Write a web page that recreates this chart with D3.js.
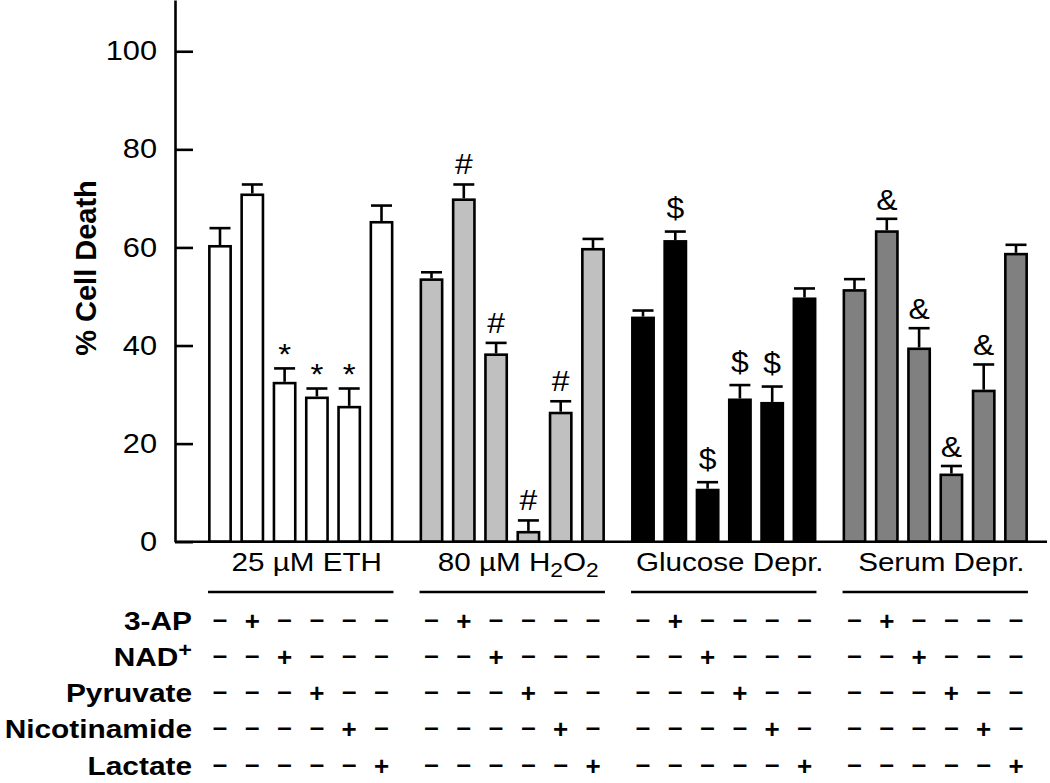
<!DOCTYPE html>
<html><head><meta charset="utf-8">
<script src="https://cdn.jsdelivr.net/npm/d3@7"></script>
<style>
body{margin:0;background:#fff}
svg{display:block}
text{font-family:"Liberation Sans",Arial,Helvetica,sans-serif;fill:#000}
</style>
</head><body>
<svg id="chart" width="1050" height="783"></svg>
<script>
// ---------- data ----------
const groups = ["25 µM ETH", "80 µM H2O2", "Glucose Depr.", "Serum Depr."];
const groupFills = ["#ffffff", "#c0c0c0", "#000000", "#808080"];

const ethValues     = [60.5, 71.0, 32.6, 29.6, 27.7, 65.4];
const ethErrors     = [3.7, 2.1, 3.0, 1.9, 3.8, 3.4];
const ethMarks      = ["", "", "*", "*", "*", ""];

const h2o2Values    = [53.7, 70.0, 38.4, 2.2, 26.5, 59.9];
const h2o2Errors    = [1.5, 3.1, 2.4, 2.4, 2.4, 2.1];
const h2o2Marks     = ["", "#", "#", "#", "#", ""];

const glucoseValues = [45.9, 61.5, 10.8, 29.2, 28.5, 49.8];
const glucoseErrors = [1.5, 2.0, 1.6, 3.0, 3.4, 2.1];
const glucoseMarks  = ["", "$", "$", "$", "$", ""];

const serumValues   = [51.5, 63.5, 39.6, 13.9, 31.0, 58.9];
const serumErrors   = [2.3, 2.6, 4.2, 1.8, 5.4, 1.9];
const serumMarks    = ["", "&", "&", "&", "&", ""];

const treatments = ["3-AP", "NAD+", "Pyruvate", "Nicotinamide", "Lactate"];
const treatmentBar = [1, 2, 3, 4, 5]; // bar (within each group) that receives the treatment
const yTicks = [0, 20, 40, 60, 80, 100];
const yLabel = "% Cell Death";

const series = [
  {name: groups[0], values: ethValues, errors: ethErrors, marks: ethMarks, fill: groupFills[0]},
  {name: groups[1], values: h2o2Values, errors: h2o2Errors, marks: h2o2Marks, fill: groupFills[1]},
  {name: groups[2], values: glucoseValues, errors: glucoseErrors, marks: glucoseMarks, fill: groupFills[2]},
  {name: groups[3], values: serumValues, errors: serumErrors, marks: serumMarks, fill: groupFills[3]}
];

// ---------- layout ----------
const svg = d3.select("#chart");
const SW = 2.6;
const AXIS_X = 175;
const y = d3.scaleLinear().domain([0, 110.45]).range([541.7, 0]);
const xg = d3.scaleBand().domain(groups).range([203.85, 1032.15]).paddingInner(0.0837).paddingOuter(0);
const xb = d3.scaleBand().domain(d3.range(6)).range([0, xg.bandwidth()]).paddingInner(0.26).paddingOuter(0.13);
const bw = xb.bandwidth();
const markGap = {"*": 3, "#": 9, "$": 12, "&": 8};

// ---------- bars ----------
series.forEach(s => {
  const g = svg.append("g").attr("transform", `translate(${xg(s.name)},0)`);
  const items = s.values.map((v, i) => ({v, e: s.errors[i], m: s.marks[i], i}));
  const bars = g.selectAll("g.bar").data(items).join("g").attr("class", "bar");
  bars.append("line")
    .attr("x1", d => xb(d.i) + bw / 2).attr("x2", d => xb(d.i) + bw / 2)
    .attr("y1", d => y(d.v)).attr("y2", d => y(d.v + d.e) + SW / 2)
    .attr("stroke", "#000").attr("stroke-width", SW);
  bars.append("line")
    .attr("x1", d => xb(d.i) + bw / 2 - 10.5).attr("x2", d => xb(d.i) + bw / 2 + 10.5)
    .attr("y1", d => y(d.v + d.e) + SW / 2).attr("y2", d => y(d.v + d.e) + SW / 2)
    .attr("stroke", "#000").attr("stroke-width", SW);
  bars.append("rect")
    .attr("x", d => xb(d.i) + SW / 2)
    .attr("y", d => y(d.v) + SW / 2)
    .attr("width", bw - SW)
    .attr("height", d => y(0) - y(d.v) - SW / 2)
    .attr("fill", s.fill).attr("stroke", "#000").attr("stroke-width", SW);
  bars.filter(d => d.m).append("text")
    .attr("transform", d => `translate(${xb(d.i) + bw / 2},${y(d.v + d.e) - markGap[d.m]}) scale(1.1,1)`)
    .attr("text-anchor", "middle")
    .attr("font-size", d => d.m === "*" ? 30 : 29)
    .text(d => d.m);
});

// ---------- axes ----------
const ax = svg.append("g").attr("transform", `translate(${AXIS_X},0)`)
  .call(d3.axisLeft(y).tickValues(yTicks).tickSize(-18).tickSizeOuter(0).tickPadding(18));
ax.attr("font-size", 27).attr("font-family", '"Liberation Sans",Arial,sans-serif');
ax.select(".domain").attr("stroke", "#000").attr("stroke-width", SW);
ax.selectAll(".tick line").attr("stroke", "#000").attr("stroke-width", SW);
ax.selectAll(".tick text").attr("fill", "#000").attr("x", -18 / 1.14).attr("transform", "scale(1.14,1)");

svg.append("line")
  .attr("x1", AXIS_X).attr("x2", 1047)
  .attr("y1", y(0)).attr("y2", y(0))
  .attr("stroke", "#000").attr("stroke-width", SW);

svg.append("text")
  .attr("transform", `translate(96,268) rotate(-90)`)
  .attr("text-anchor", "middle")
  .attr("font-size", 29).attr("font-weight", "bold")
  .text(yLabel);

// ---------- group labels ----------
groups.forEach(name => {
  const cx = xg(name) + xg.bandwidth() / 2 + 6;
  const t = svg.append("text")
    .attr("transform", `translate(${cx},571) scale(1.14,1)`)
    .attr("text-anchor", "middle")
    .attr("font-size", 26);
  // digits directly after an uppercase letter are chemical subscripts
  const parts = name.split(/(?<=[A-Z])(\d)/);
  let lowered = false;
  parts.forEach((p, k) => {
    if (!p) return;
    const isSub = k % 2 === 1;
    const ts = t.append("tspan").text(p);
    if (isSub) { ts.attr("font-size", 20).attr("dy", 6); lowered = true; }
    else if (lowered) { ts.attr("dy", -6); lowered = false; }
  });
  svg.append("line")
    .attr("x1", xg(name) + xb(0)).attr("x2", xg(name) + xb(5) + bw)
    .attr("y1", 592).attr("y2", 592)
    .attr("stroke", "#000").attr("stroke-width", SW);
});

// ---------- treatment table ----------
const rowY = d3.scalePoint().domain(treatments).range([630, 774.5]);
treatments.forEach((tr, r) => {
  const lbl = svg.append("text")
    .attr("transform", `translate(192,${rowY(tr)}) scale(1.17,1)`)
    .attr("text-anchor", "end")
    .attr("font-size", 25.5).attr("font-weight", "bold");
  if (tr.endsWith("+")) {
    lbl.append("tspan").text(tr.slice(0, -1));
    lbl.append("tspan").text("+").attr("font-size", 20).attr("dy", -9);
  } else {
    lbl.text(tr);
  }
  groups.forEach(name => {
    d3.range(6).forEach(i => {
      const on = i === treatmentBar[r];
      svg.append("text")
        .attr("x", xg(name) + xb(i) + bw / 2)
        .attr("y", rowY(tr) - (on ? 0 : 2))
        .attr("text-anchor", "middle")
        .attr("font-size", 26).attr("font-weight", "bold")
        .text(on ? "+" : "–");
    });
  });
});
</script>
</body></html>
